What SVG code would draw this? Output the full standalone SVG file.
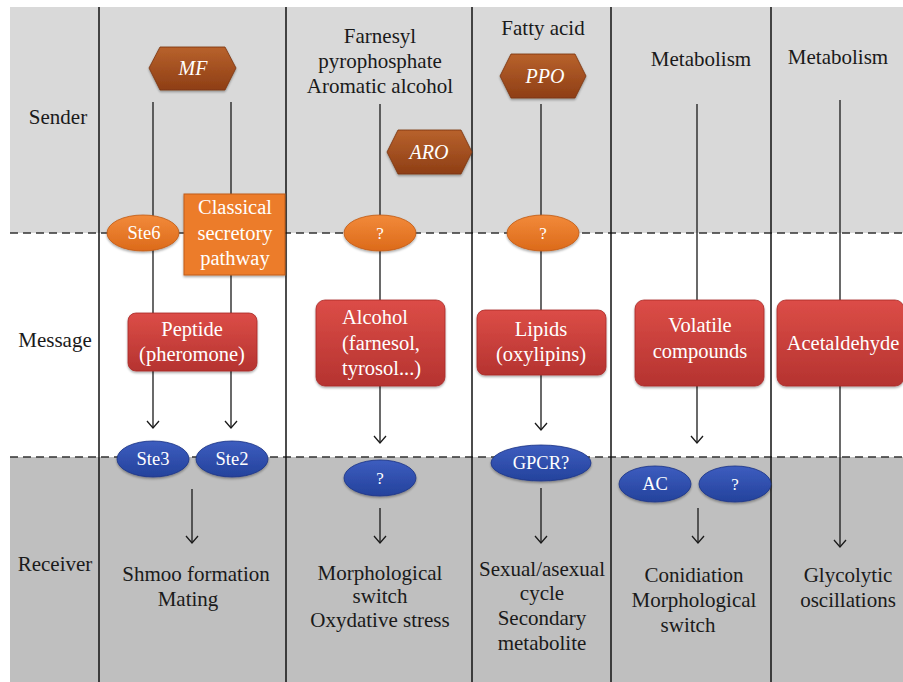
<svg xmlns="http://www.w3.org/2000/svg" width="903" height="682" viewBox="0 0 903 682">
<style>
text{font-family:'Liberation Serif','Times New Roman',serif}
.lbl{font-size:21px;fill:#1a1a1a;text-anchor:middle}
.nt{font-size:20.5px;fill:#ffffff;text-anchor:middle}
.st{font-size:18.5px;fill:#ffffff;text-anchor:middle}
.q{font-size:17px}
.it{font-size:20px;font-style:italic;fill:#ffffff;text-anchor:middle}
.div{stroke:#111;stroke-width:1.5}
.dash{stroke:#333;stroke-width:1.5;stroke-dasharray:8 5}
.con{stroke:#1a1a1a;stroke-width:1.3;fill:none}
.hex{fill:url(#gBrown);stroke:#7a3410;stroke-width:0.8}
.org{fill:url(#gOrange);stroke:#c05a15;stroke-width:0.8}
.red{fill:url(#gRed);stroke:#a82a27;stroke-width:0.8}
.blu{fill:url(#gBlue);stroke:#1d3585;stroke-width:0.8}
</style>
<defs>
<linearGradient id="gBrown" x1="0" y1="0" x2="0" y2="1"><stop offset="0" stop-color="#b8622c"/><stop offset="1" stop-color="#8e3e15"/></linearGradient>
<linearGradient id="gOrange" x1="0" y1="0" x2="0" y2="1"><stop offset="0" stop-color="#f28a3a"/><stop offset="1" stop-color="#dc6a1a"/></linearGradient>
<linearGradient id="gRed" x1="0" y1="0" x2="0" y2="1"><stop offset="0" stop-color="#dc4d47"/><stop offset="1" stop-color="#b53330"/></linearGradient>
<linearGradient id="gBlue" x1="0" y1="0" x2="0" y2="1"><stop offset="0" stop-color="#3d5dbf"/><stop offset="1" stop-color="#24429c"/></linearGradient>
<filter id="sh" x="-20%" y="-20%" width="140%" height="150%"><feDropShadow dx="0" dy="1.5" stdDeviation="1.2" flood-color="#000" flood-opacity="0.35"/></filter>
<marker id="arr" viewBox="-1 -7 9 14" refX="7" refY="0" markerWidth="9" markerHeight="14" markerUnits="userSpaceOnUse" orient="auto"><path d="M0,-6 L7,0 L0,6" fill="none" stroke="#1a1a1a" stroke-width="1.3"/></marker>
</defs>

<g id="background">
<rect x="10" y="7" width="893" height="226" fill="#d9d9d9"/>
<rect x="10" y="233" width="893" height="224" fill="#ffffff"/>
<rect x="10" y="457" width="893" height="225" fill="#bfbfbf"/>
<line class="dash" x1="10" y1="233" x2="903" y2="233"/>
<line class="dash" x1="10" y1="457" x2="903" y2="457"/>
<line class="div" x1="99" y1="7" x2="99" y2="682"/>
<line class="div" x1="286" y1="7" x2="286" y2="682"/>
<line class="div" x1="472" y1="7" x2="472" y2="682"/>
<line class="div" x1="611" y1="7" x2="611" y2="682"/>
<line class="div" x1="771" y1="7" x2="771" y2="682"/>
</g>

<g id="row-labels">
<text class="lbl" x="58" y="124">Sender</text>
<text class="lbl" x="55" y="347">Message</text>
<text class="lbl" x="55" y="571">Receiver</text>
</g>

<g id="connectors">
<line class="con" x1="153" y1="102" x2="153" y2="428" marker-end="url(#arr)"/>
<line class="con" x1="231" y1="102" x2="231" y2="428" marker-end="url(#arr)"/>
<line class="con" x1="192" y1="489" x2="192" y2="543" marker-end="url(#arr)"/>
<line class="con" x1="380" y1="104" x2="380" y2="443" marker-end="url(#arr)"/>
<line class="con" x1="380" y1="508" x2="380" y2="543" marker-end="url(#arr)"/>
<line class="con" x1="541" y1="104" x2="541" y2="430" marker-end="url(#arr)"/>
<line class="con" x1="541" y1="488" x2="541" y2="543" marker-end="url(#arr)"/>
<line class="con" x1="697" y1="104" x2="697" y2="443" marker-end="url(#arr)"/>
<line class="con" x1="698" y1="508" x2="698" y2="543" marker-end="url(#arr)"/>
<line class="con" x1="840" y1="100" x2="840" y2="547" marker-end="url(#arr)"/>
</g>

<g id="col1-MF"><path class="hex" filter="url(#sh)" d="M149,68 L160,47 L225,47 L236,68 L225,90 L160,90 Z"/><text class="it" x="193" y="75">MF</text></g>
<g id="col1-Ste6"><ellipse class="org" filter="url(#sh)" cx="143" cy="233" rx="36" ry="18"/><text class="st" x="144" y="239">Ste6</text></g>
<g id="col1-secretory"><rect x="184" y="194" width="101" height="81" fill="#ec7b2c" stroke="#c25e18" stroke-width="1" filter="url(#sh)"/><text class="nt" x="235" y="214">Classical</text><text class="nt" x="235" y="240">secretory</text><text class="nt" x="235" y="265">pathway</text></g>
<g id="col1-peptide"><rect class="red" filter="url(#sh)" x="128" y="313" width="129" height="58" rx="8"/><text class="nt" x="192" y="336">Peptide</text><text class="nt" x="192" y="361">(pheromone)</text></g>
<g id="col1-Ste3"><ellipse class="blu" filter="url(#sh)" cx="153" cy="459" rx="36" ry="18"/><text class="st" x="153" y="465">Ste3</text></g>
<g id="col1-Ste2"><ellipse class="blu" filter="url(#sh)" cx="232" cy="459" rx="36" ry="18"/><text class="st" x="232" y="465">Ste2</text></g>
<g id="col1-receiver"><text class="lbl" x="196" y="581">Shmoo formation</text><text class="lbl" x="188" y="606">Mating</text></g>

<g id="col2-sender"><text class="lbl" x="380" y="43">Farnesyl</text><text class="lbl" x="380" y="68">pyrophosphate</text><text class="lbl" x="380" y="93">Aromatic alcohol</text></g>
<g id="col2-ARO"><path class="hex" filter="url(#sh)" d="M387,152 L398,130 L461,130 L472,152 L461,174 L398,174 Z"/><text class="it" x="429" y="159">ARO</text></g>
<g id="col2-q1"><ellipse class="org" filter="url(#sh)" cx="380" cy="233" rx="36" ry="18"/><text class="st q" x="380" y="239">?</text></g>
<g id="col2-alcohol"><rect class="red" filter="url(#sh)" x="316" y="300" width="129" height="86" rx="9"/><text class="nt" x="342" y="324" style="text-anchor:start">Alcohol</text><text class="nt" x="342" y="350" style="text-anchor:start">(farnesol,</text><text class="nt" x="342" y="375" style="text-anchor:start">tyrosol...)</text></g>
<g id="col2-q2"><ellipse class="blu" filter="url(#sh)" cx="380" cy="478" rx="36" ry="18"/><text class="st q" x="380" y="484">?</text></g>
<g id="col2-receiver"><text class="lbl" x="380" y="580">Morphological</text><text class="lbl" x="380" y="603">switch</text><text class="lbl" x="380" y="627">Oxydative stress</text></g>

<g id="col3-sender"><text class="lbl" x="543" y="35">Fatty acid</text></g>
<g id="col3-PPO"><path class="hex" filter="url(#sh)" d="M500,76 L511,54 L575,54 L586,76 L575,98 L511,98 Z"/><text class="it" x="545" y="83">PPO</text></g>
<g id="col3-q1"><ellipse class="org" filter="url(#sh)" cx="543" cy="233" rx="36" ry="18"/><text class="st q" x="543" y="239">?</text></g>
<g id="col3-lipids"><rect class="red" filter="url(#sh)" x="477" y="310" width="129" height="65" rx="8"/><text class="nt" x="541" y="336">Lipids</text><text class="nt" x="541" y="361">(oxylipins)</text></g>
<g id="col3-GPCR"><ellipse class="blu" filter="url(#sh)" cx="541" cy="463" rx="50" ry="18"/><text class="st" x="541" y="469">GPCR?</text></g>
<g id="col3-receiver"><text class="lbl" x="542" y="576">Sexual/asexual</text><text class="lbl" x="542" y="600">cycle</text><text class="lbl" x="542" y="625">Secondary</text><text class="lbl" x="542" y="650">metabolite</text></g>

<g id="col4-sender"><text class="lbl" x="701" y="66">Metabolism</text></g>
<g id="col4-volatile"><rect class="red" filter="url(#sh)" x="635" y="300" width="129" height="86" rx="9"/><text class="nt" x="700" y="332">Volatile</text><text class="nt" x="700" y="358">compounds</text></g>
<g id="col4-AC"><ellipse class="blu" filter="url(#sh)" cx="655" cy="484" rx="36" ry="18"/><text class="st" x="655" y="490">AC</text></g>
<g id="col4-q"><ellipse class="blu" filter="url(#sh)" cx="735" cy="484" rx="36" ry="18"/><text class="st q" x="735" y="490">?</text></g>
<g id="col4-receiver"><text class="lbl" x="694" y="582">Conidiation</text><text class="lbl" x="694" y="607">Morphological</text><text class="lbl" x="688" y="632">switch</text></g>

<g id="col5-sender"><text class="lbl" x="838" y="64">Metabolism</text></g>
<g id="col5-acetaldehyde"><rect class="red" filter="url(#sh)" x="777" y="300" width="127" height="86" rx="9"/><text class="nt" x="843" y="350">Acetaldehyde</text></g>
<g id="col5-receiver"><text class="lbl" x="848" y="582">Glycolytic</text><text class="lbl" x="848" y="607">oscillations</text></g>
</svg>
